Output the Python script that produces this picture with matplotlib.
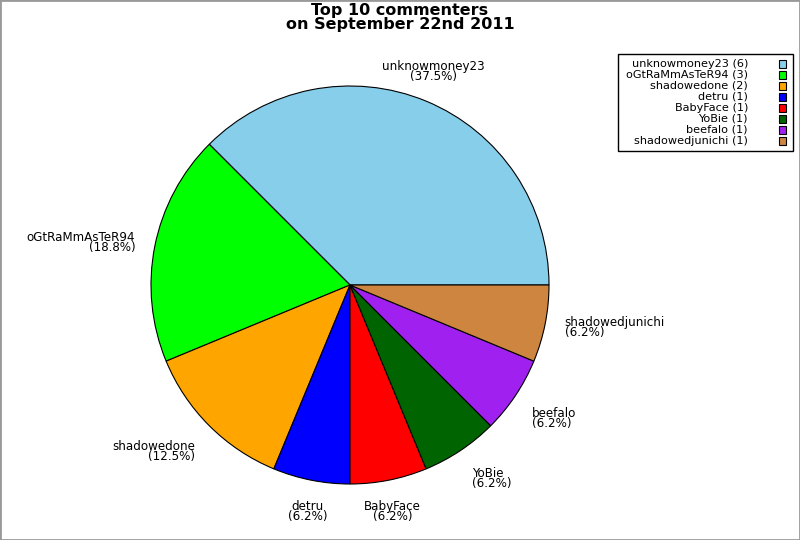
import numpy as np
import matplotlib
matplotlib.use("Agg")
import matplotlib.pyplot as plt
from matplotlib.patches import Rectangle

names = ["unknowmoney23", "oGtRaMmAsTeR94", "shadowedone", "detru",
         "BabyFace", "YoBie", "beefalo", "shadowedjunichi"]
counts = [6, 3, 2, 1, 1, 1, 1, 1]
colors = ["#87CEEB", "#00FF00", "#FFA500", "#0000FF",
          "#FF0000", "#006400", "#A020F0", "#CD853F"]
title = "Top 10 commenters\non September 22nd 2011"

W, H = 800, 540
fig = plt.figure(figsize=(W / 100, H / 100), dpi=100)
fig.patch.set_facecolor("white")

cx, cy, r = 350, 285, 199
ax = fig.add_axes([(cx - r) / W, (H - cy - r) / H, 2 * r / W, 2 * r / H])
wedges, _ = ax.pie(counts, colors=colors, startangle=0, counterclock=True,
                   radius=1.0, wedgeprops=dict(edgecolor="black", linewidth=0.8))
ax.set_xlim(-1, 1)
ax.set_ylim(-1, 1)
ax.set_aspect("equal")
ax.axis("off")

total = sum(counts)
lab_r = 1.1
for w, name, c in zip(wedges, names, counts):
    mid = np.deg2rad((w.theta1 + w.theta2) / 2)
    x, y = lab_r * np.cos(mid), lab_r * np.sin(mid)
    cs, sn = np.cos(mid), np.sin(mid)
    ha = "center" if abs(cs) < 0.5 else ("left" if cs > 0 else "right")
    va = "center" if abs(sn) < 0.5 else ("bottom" if sn > 0 else "top")
    ax.text(x, y, f"{name}\n({100 * c / total:.1f}%)", ha=ha, va=va,
            multialignment=ha, fontsize=8.6, linespacing=0.72, clip_on=False)

fig.text(0.5, 1 - 3 / H, title, ha="center", va="top", fontsize=11.5,
         fontweight="bold", linespacing=0.95)

# legend (label then box)
lx0, lx1, ly0, ly1 = 618, 793, 54, 151
fig.patches.append(Rectangle((lx0 / W, 1 - ly1 / H), (lx1 - lx0) / W, (ly1 - ly0) / H,
                             transform=fig.transFigure, facecolor="white",
                             edgecolor="black", linewidth=1.0))
row0, step = 64, 10.95
for i, (name, c, col) in enumerate(zip(names, counts, colors)):
    yy = row0 + i * step
    fig.text(748 / W, 1 - yy / H, f"{name} ({c})", ha="right", va="center",
             fontsize=8.1)
    fig.patches.append(Rectangle((779 / W, 1 - (yy + 4) / H), 6.5 / W, 8 / H,
                                 transform=fig.transFigure, facecolor=col,
                                 edgecolor="black", linewidth=0.8))

# figure border
fig.patches.append(Rectangle((0, 0), 1, 1, transform=fig.transFigure,
                             facecolor="none", edgecolor="#999999", linewidth=2))

fig.savefig("out.png", dpi=100, facecolor="white")
